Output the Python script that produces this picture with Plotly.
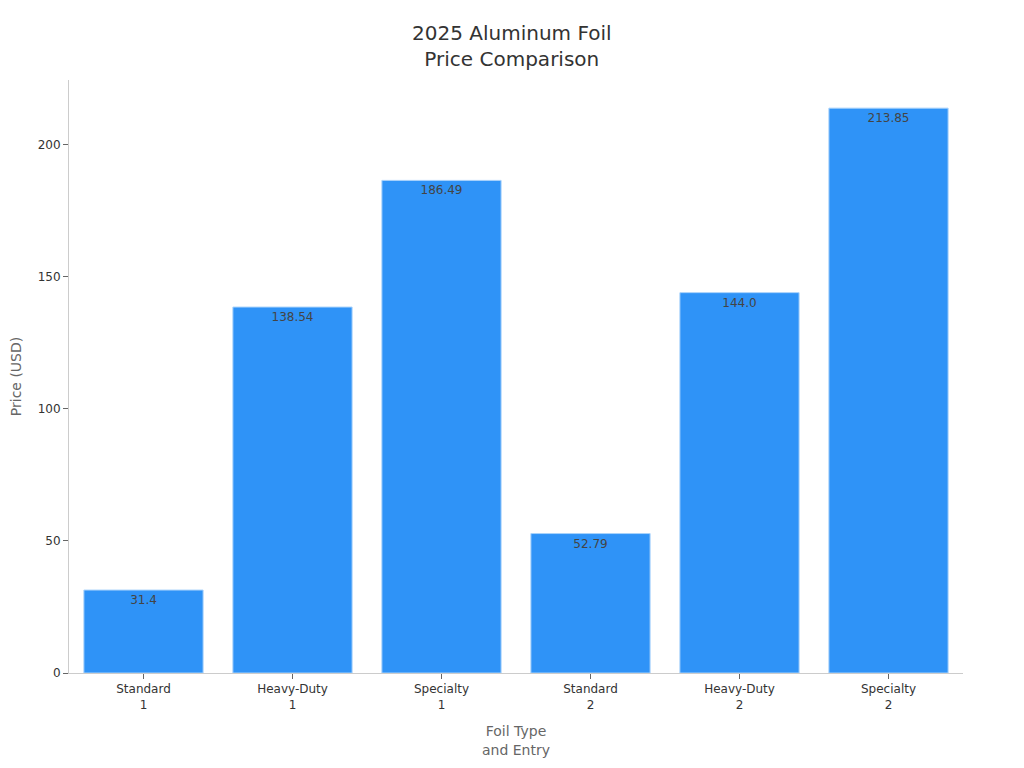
import plotly.graph_objects as go

# bar data
foil_types = ["Standard<br>1", "Heavy-Duty<br>1", "Specialty<br>1",
              "Standard<br>2", "Heavy-Duty<br>2", "Specialty<br>2"]
prices = [31.4, 138.54, 186.49, 52.79, 144.0, 213.85]
price_labels = ["31.4", "138.54", "186.49", "52.79", "144.0", "213.85"]

fig = go.Figure()
fig.add_trace(go.Bar(
    x=foil_types,
    y=prices,
    text=price_labels,
    textposition="inside",
    insidetextanchor="end",
    textfont=dict(color="#444444", size=12),
    marker=dict(color="#2f93f7", line=dict(color="#a8d2fb", width=1)),
))

fig.update_layout(
    title=dict(text="2025 Aluminum Foil<br>Price Comparison", x=0.492, xanchor="center",
               y=0.958, font=dict(size=20, color="#333333")),
    font=dict(family="DejaVu Sans", size=12, color="#333333"),
    plot_bgcolor="white",
    paper_bgcolor="white",
    width=1024, height=768,
    margin=dict(l=61, r=69, t=72, b=103),
    bargap=0.2,
    showlegend=False,
)

fig.update_xaxes(
    title=dict(text="Foil Type<br>and Entry", font=dict(size=14, color="#666666")),
    showline=True, linecolor="#cccccc", linewidth=1,
    ticks="outside", ticklen=5, tickcolor="#666666",
    showgrid=False, automargin=False,
)
fig.update_yaxes(
    title=dict(text="Price (USD)", font=dict(size=14, color="#666666"), standoff=18),
    showline=True, linecolor="#cccccc", linewidth=1,
    ticks="outside", ticklen=5, tickcolor="#666666",
    showgrid=False, zeroline=False, automargin=False,
    range=[0, 224.5], tickvals=[0, 50, 100, 150, 200],
)

fig.write_html("out.html")
